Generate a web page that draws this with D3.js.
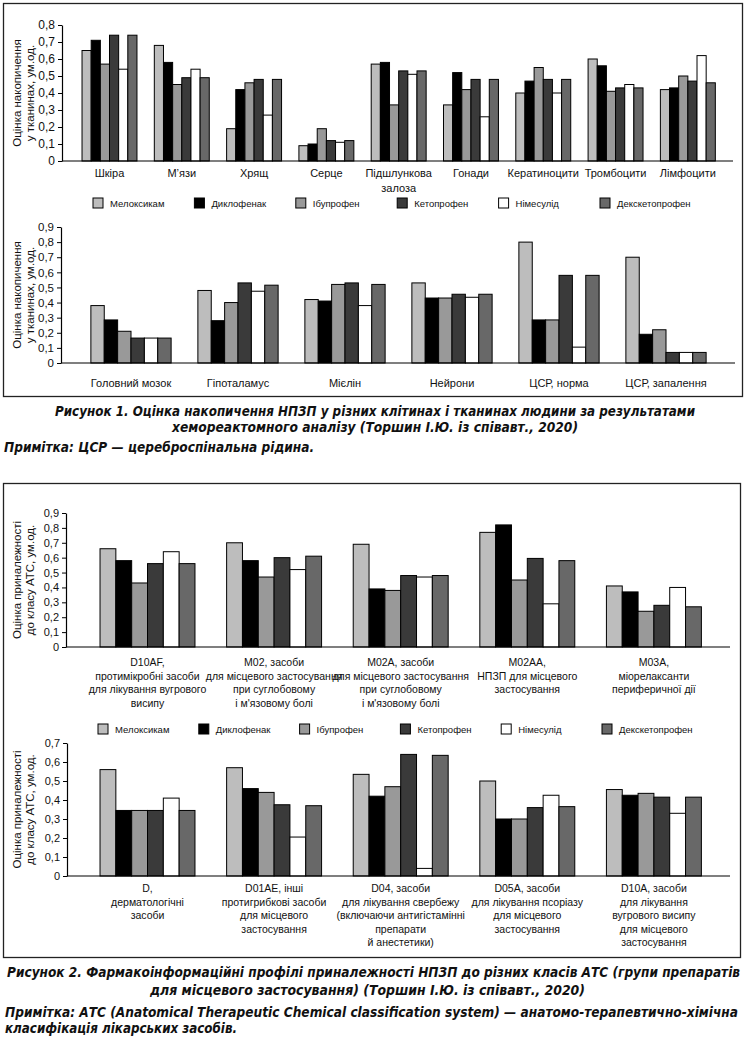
<!DOCTYPE html>
<html>
<head>
<meta charset="utf-8">
<script src="https://cdn.jsdelivr.net/npm/d3@7"></script>
<style>
  body { margin: 0; background: #fff; }
  svg { display: block; font-family: "Liberation Sans", Arial, sans-serif; }
  .cap { font-family: "Liberation Sans Narrow", "DejaVu Sans Condensed", sans-serif; font-weight: bold; font-style: italic; font-size: 13.5px; }
</style>
</head>
<body>
<svg id="chart" width="749" height="1040"></svg>
<script>
// drugs (legend)
const drugs = ['Мелоксикам', 'Диклофенак', 'Ібупрофен', 'Кетопрофен', 'Німесулід', 'Декскетопрофен'];
const drugColors = ['#bdbdbd', '#000000', '#999999', '#3a3a3a', '#ffffff', '#686868'];

// Figure 1, top: tissues
const tissues1 = [['Шкіра'], ['М’язи'], ['Хрящ'], ['Серце'], ['Підшлункова', 'залоза'], ['Гонади'], ['Кератиноцити'], ['Тромбоцити'], ['Лімфоцити']];
const melox1 = [0.65, 0.68, 0.19, 0.09, 0.57, 0.33, 0.40, 0.60, 0.42];
const diclo1 = [0.71, 0.58, 0.42, 0.10, 0.58, 0.52, 0.47, 0.56, 0.43];
const ibu1 = [0.57, 0.45, 0.46, 0.19, 0.33, 0.42, 0.55, 0.41, 0.50];
const keto1 = [0.74, 0.49, 0.48, 0.12, 0.53, 0.48, 0.48, 0.43, 0.47];
const nime1 = [0.54, 0.54, 0.27, 0.11, 0.51, 0.26, 0.40, 0.45, 0.62];
const dexk1 = [0.74, 0.49, 0.48, 0.12, 0.53, 0.48, 0.48, 0.43, 0.46];
const ticks1 = [0, 0.1, 0.2, 0.3, 0.4, 0.5, 0.6, 0.7, 0.8];

// Figure 1, bottom
const tissues2 = [['Головний мозок'], ['Гіпоталамус'], ['Мієлін'], ['Нейрони'], ['ЦСР, норма'], ['ЦСР, запалення']];
const melox2 = [0.38, 0.48, 0.42, 0.53, 0.80, 0.70];
const diclo2 = [0.285, 0.28, 0.41, 0.43, 0.285, 0.19];
const ibu2 = [0.21, 0.40, 0.52, 0.43, 0.285, 0.22];
const keto2 = [0.165, 0.53, 0.53, 0.455, 0.58, 0.07];
const nime2 = [0.165, 0.475, 0.38, 0.435, 0.105, 0.07];
const dexk2 = [0.165, 0.515, 0.52, 0.455, 0.58, 0.07];
const ticks2 = [0, 0.1, 0.2, 0.3, 0.4, 0.5, 0.6, 0.7, 0.8, 0.9];

// Figure 2, top: ATC classes
const atc3 = [
  ['D10AF,', 'протимікробні засоби', 'для лікування вугрового', 'висипу'],
  ['M02, засоби', 'для місцевого застосування', 'при суглобовому', 'і м\'язовому болі'],
  ['M02A, засоби', 'для місцевого застосування', 'при суглобовому', 'і м\'язовому болі'],
  ['M02AA,', 'НПЗП для місцевого', 'застосування'],
  ['M03A,', 'міорелаксанти', 'периферичної дії']
];
const melox3 = [0.66, 0.70, 0.69, 0.77, 0.41];
const diclo3 = [0.58, 0.58, 0.39, 0.82, 0.37];
const ibu3 = [0.43, 0.47, 0.38, 0.45, 0.24];
const keto3 = [0.56, 0.60, 0.48, 0.595, 0.28];
const nime3 = [0.64, 0.52, 0.47, 0.29, 0.40];
const dexk3 = [0.56, 0.61, 0.48, 0.58, 0.27];
const ticks3 = [0, 0.1, 0.2, 0.3, 0.4, 0.5, 0.6, 0.7, 0.8, 0.9];

// Figure 2, bottom
const atc4 = [
  ['D,', 'дерматологічні', 'засоби'],
  ['D01AE, інші', 'протигрибкові засоби', 'для місцевого', 'застосування'],
  ['D04, засоби', 'для лікування свербежу', '(включаючи антигістамінні', 'препарати', 'й анестетики)'],
  ['D05A, засоби', 'для лікування псоріазу', 'для місцевого', 'застосування'],
  ['D10A, засоби', 'для лікування', 'вугрового висипу', 'для місцевого', 'застосування']
];
const melox4 = [0.56, 0.57, 0.535, 0.50, 0.455];
const diclo4 = [0.345, 0.46, 0.42, 0.30, 0.425];
const ibu4 = [0.345, 0.44, 0.47, 0.30, 0.435];
const keto4 = [0.345, 0.375, 0.64, 0.36, 0.415];
const nime4 = [0.41, 0.205, 0.04, 0.425, 0.33];
const dexk4 = [0.345, 0.37, 0.635, 0.365, 0.415];
const ticks4 = [0, 0.1, 0.2, 0.3, 0.4, 0.5, 0.6, 0.7];

//////////////////////////////////////////////////////////////

const svg = d3.select('#chart');
const fmt = (d) => d === 0 ? '0' : d.toFixed(1).replace('.', ',');

// frames
svg.append('rect').attr('x', 3.5).attr('y', 3.5).attr('width', 739).attr('height', 393)
  .attr('fill', 'none').attr('stroke', '#222').attr('stroke-width', 1.3);
svg.append('rect').attr('x', 3.5).attr('y', 483.5).attr('width', 737).attr('height', 474)
  .attr('fill', 'none').attr('stroke', '#222').attr('stroke-width', 1.3);

function drawPanel(p) {
  const g = svg.append('g');
  const x = d3.scaleBand()
    .domain(d3.range(p.cats.length))
    .range(p.xRange)
    .paddingInner(p.pad)
    .paddingOuter(p.pad / 2);
  const xs = d3.scaleBand().domain(d3.range(drugs.length)).range([0, x.bandwidth()]);
  const y = d3.scaleLinear().domain([0, p.yMax]).range(p.yRange);

  // bars
  p.series.forEach((vals, si) => {
    g.append('g').selectAll('rect')
      .data(vals)
      .join('rect')
      .attr('x', (d, i) => x(i) + xs(si))
      .attr('y', (d) => y(d))
      .attr('width', xs.bandwidth())
      .attr('height', (d) => y(0) - y(d))
      .attr('fill', drugColors[si])
      .attr('stroke', '#000')
      .attr('stroke-width', 1);
  });

  // y axis
  const yAxis = g.append('g')
    .attr('transform', `translate(${p.axisX},0)`)
    .call(d3.axisLeft(y).tickValues(p.ticks).tickFormat(fmt).tickSize(4).tickSizeOuter(0));
  yAxis.select('.domain').attr('stroke', '#000').attr('stroke-width', 1.2);
  yAxis.selectAll('.tick line').attr('stroke', '#000');
  yAxis.selectAll('.tick text').attr('font-size', p.tickFont).attr('fill', '#111')
    .attr('font-family', '"Liberation Sans", Arial, sans-serif');

  // x axis line
  g.append('line').attr('x1', p.axisX).attr('x2', p.axisEnd)
    .attr('y1', y(0)).attr('y2', y(0)).attr('stroke', '#000').attr('stroke-width', 1.2);

  // category labels
  p.cats.forEach((lines, i) => {
    const t = g.append('text')
      .attr('x', x(i) + x.bandwidth() / 2)
      .attr('y', p.labelY)
      .attr('text-anchor', 'middle')
      .attr('font-size', p.catFont)
      .attr('fill', '#111');
    lines.forEach((l, li) => {
      t.append('tspan').attr('x', x(i) + x.bandwidth() / 2)
        .attr('dy', li === 0 ? 0 : p.lineH).text(l);
    });
  });

  // y label
  const cy = (p.yRange[0] + p.yRange[1]) / 2;
  p.yLabel.forEach((l, li) => {
    g.append('text')
      .attr('transform', `translate(${21 + li * 13},${cy}) rotate(-90)`)
      .attr('text-anchor', 'middle')
      .attr('font-size', 11.5)
      .attr('fill', '#111')
      .text(l);
  });
}

function drawLegend(x0, step, yc) {
  const lg = svg.append('g');
  drugs.forEach((name, i) => {
    lg.append('rect').attr('x', x0 + i * step).attr('y', yc - 5)
      .attr('width', 10).attr('height', 10)
      .attr('fill', drugColors[i]).attr('stroke', '#000').attr('stroke-width', 1);
    lg.append('text').attr('x', x0 + i * step + 17).attr('y', yc + 3.5)
      .attr('font-size', 9.5).attr('fill', '#111').text(name);
  });
}

drawPanel({
  cats: tissues1, series: [melox1, diclo1, ibu1, keto1, nime1, dexk1],
  xRange: [73.35, 724], pad: 0.24, yMax: 0.8, yRange: [161, 25], ticks: ticks1,
  axisX: 62, axisEnd: 733, labelY: 177, lineH: 15, catFont: 11, tickFont: 12,
  yLabel: ['Оцінка накопичення', 'у тканинах, ум.од.']
});
drawLegend(93, 101.4, 203);
drawPanel({
  cats: tissues2, series: [melox2, diclo2, ibu2, keto2, nime2, dexk2],
  xRange: [77.5, 719.5], pad: 0.25, yMax: 0.9, yRange: [363, 227], ticks: ticks2,
  axisX: 61, axisEnd: 735, labelY: 387, lineH: 15, catFont: 11, tickFont: 11.5,
  yLabel: ['Оцінка накопичення', 'у тканинах, ум.од.']
});
drawPanel({
  cats: atc3, series: [melox3, diclo3, ibu3, keto3, nime3, dexk3],
  xRange: [84.2, 717.2], pad: 0.25, yMax: 0.9, yRange: [647, 513], ticks: ticks3,
  axisX: 66, axisEnd: 730, labelY: 666, lineH: 13.5, catFont: 10.5, tickFont: 11,
  yLabel: ['Оцінка приналежності', 'до класу АТС, ум.од.']
});
drawLegend(98, 100.8, 729);
drawPanel({
  cats: atc4, series: [melox4, diclo4, ibu4, keto4, nime4, dexk4],
  xRange: [84.2, 717.2], pad: 0.25, yMax: 0.7, yRange: [876, 743], ticks: ticks4,
  axisX: 67, axisEnd: 730, labelY: 892, lineH: 13.5, catFont: 10.5, tickFont: 11,
  yLabel: ['Оцінка приналежності', 'до класу АТС, ум.од.']
});

// captions (widths fitted to the printed condensed face)
function cap(txt, x, y, w) {
  svg.append('text').attr('class', 'cap').attr('x', x).attr('y', y)
    .attr('textLength', w).attr('lengthAdjust', 'spacingAndGlyphs')
    .attr('fill', '#111').text(txt);
}
cap('Рисунок 1. Оцінка накопичення НПЗП у різних клітинах і тканинах людини за результатами', 55, 416, 640);
cap('хемореактомного аналізу (Торшин І.Ю. із співавт., 2020)', 172, 432, 406);
cap('Примітка: ЦСР — цереброспінальна рідина.', 4, 452, 310);
cap('Рисунок 2. Фармакоінформаційні профілі приналежності НПЗП до різних класів АТС (групи препаратів', 7, 977, 733);
cap('для місцевого застосування) (Торшин І.Ю. із співавт., 2020)', 150, 995, 435);
cap('Примітка: АТС (Anatomical Therapeutic Chemical classification system) — анатомо-терапевтично-хімічна', 5, 1017, 733);
cap('класифікація лікарських засобів.', 5, 1033, 232);
</script>
</body>
</html>
